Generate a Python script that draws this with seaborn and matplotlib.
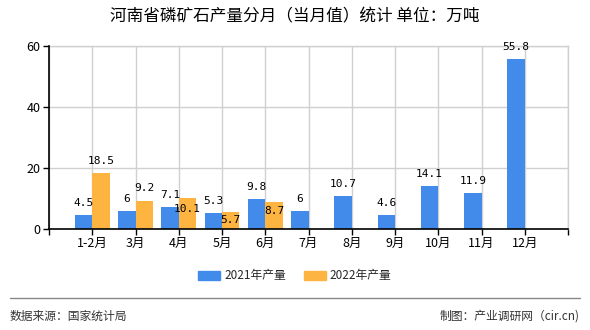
import matplotlib
matplotlib.use("Agg")
import matplotlib.pyplot as plt
import seaborn as sns
import pandas as pd
import numpy as np

# Monthly phosphate rock output in Henan (10k tonnes)
months = ["1-2月", "3月", "4月", "5月", "6月", "7月", "8月", "9月", "10月", "11月", "12月"]
output_2021 = [4.5, 6, 7.1, 5.3, 9.8, 6, 10.7, 4.6, 14.1, 11.9, 55.8]
output_2022 = [18.5, 9.2, 10.1, 5.7, 8.7, None, None, None, None, None, None]
series_names = ["2021年产量", "2022年产量"]
y_ticks = [0, 20, 40, 60]

# label offsets (pixels, vertical) for the 2022 value labels
offsets_2022 = [12, 13, -11, -8, -9]

sns.set_theme(style="white")
plt.rcParams["font.family"] = ["Noto Sans CJK SC", "DejaVu Sans"]
plt.rcParams["axes.unicode_minus"] = False

blue = "#428BEA"
orange = "#FDB441"
grid_color = "#d0d0d0"

df = pd.DataFrame({
    "月份": months * 2,
    "产量": output_2021 + [np.nan if v is None else v for v in output_2022],
    "系列": [series_names[0]] * len(months) + [series_names[1]] * len(months),
})

fig = plt.figure(figsize=(5.9, 3.3), dpi=100)
ax = fig.add_axes([49 / 590, 1 - 229 / 330, (568 - 49) / 590, (229 - 46) / 330])

sns.barplot(data=df, x="月份", y="产量", hue="系列", order=months,
            hue_order=series_names, palette=[blue, orange], width=0.8,
            saturation=1, linewidth=0, edgecolor="none", ax=ax, legend=True,
            zorder=3)

ax.set_xlim(-1, len(months))
ax.set_ylim(0, 60)
ax.set_yticks(y_ticks)
ax.set_xticks(range(-1, len(months) + 1))
ax.set_xticklabels([""] + months + [""])
ax.set_xlabel("")
ax.set_ylabel("")

ax.grid(True, color=grid_color, linewidth=1, zorder=0)
ax.set_axisbelow(True)
for s in ["top", "right"]:
    ax.spines[s].set_visible(True)
    ax.spines[s].set_color(grid_color)
    ax.spines[s].set_linewidth(1)
for s in ["left", "bottom"]:
    ax.spines[s].set_color("black")
    ax.spines[s].set_linewidth(1.2)
    ax.spines[s].set_zorder(4)
ax.tick_params(axis="both", which="both", direction="out", length=4, width=1,
               color="black", labelsize=9, labelcolor="black", pad=2,
               left=True, bottom=True)

px = 0.72  # points per pixel at 100 dpi
label_kw = dict(ha="center", va="center", fontsize=8, color="black",
                family=["DejaVu Sans Mono", "Noto Sans CJK SC"],
                textcoords="offset points", zorder=5)

def fmt(v):
    return f"{v:g}"

for i, v in enumerate(output_2021):
    ax.annotate(fmt(v), xy=(i - 0.2, v), xytext=(0, 12 * px), **label_kw)
for i, v in enumerate(output_2022):
    if v is None:
        continue
    ax.annotate(fmt(v), xy=(i + 0.2, v), xytext=(0, offsets_2022[i] * px), **label_kw)

ax.legend_.remove()
handles = [plt.Rectangle((0, 0), 1, 1, color=blue), plt.Rectangle((0, 0), 1, 1, color=orange)]
fig.legend(handles, series_names, loc="center", bbox_to_anchor=(0.5, 1 - 276 / 330),
           ncol=2, frameon=False, fontsize=8.5, handlelength=1.85, handleheight=0.7,
           handletextpad=0.35, columnspacing=1.5)

fig.text(0.5, 1 - 17 / 330, "河南省磷矿石产量分月（当月值）统计 单位：万吨",
         ha="center", va="center", fontsize=12, color="black")

fig.add_artist(plt.Line2D([10 / 590, 580 / 590], [1 - 298 / 330] * 2,
                          color="#888888", linewidth=1))
fig.text(10 / 590, 1 - 316 / 330, "数据来源：国家统计局", ha="left", va="center",
         fontsize=8.5, color="#333333")
fig.text(580 / 590, 1 - 316 / 330, "制图：产业调研网（cir.cn)", ha="right", va="center",
         fontsize=8.5, color="#333333")

fig.savefig("out.png", dpi=100)
